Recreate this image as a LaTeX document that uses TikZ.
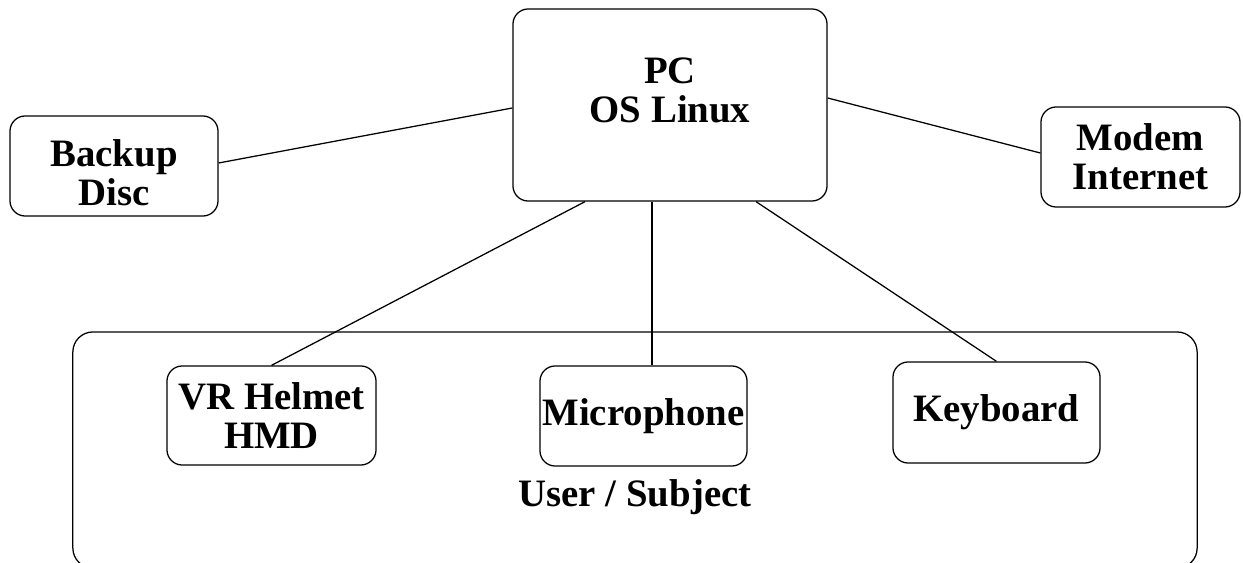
\documentclass[tikz,border=0pt]{standalone}
\usepackage{fontspec}
\setmainfont{Liberation Serif}
\usepackage{tikz}
\usetikzlibrary{positioning}

\begin{document}
\begin{tikzpicture}[x=0.025cm,y=-0.025cm,
  box/.style={draw,line width=0.9pt,rounded corners=0.38cm,inner sep=0pt},
  lbl/.style={align=center,font=\fontsize{27.6}{27.6}\selectfont\bfseries}]
\useasboundingbox (0,0) rectangle (1243,563);
% User area
\node[box,rounded corners=0.5cm,minimum width=28.1cm,minimum height=5.9cm] (user) at (635,450) {};
\node[lbl] (usertxt) at (635,497) {User / Subject};
% PC
\node[box,minimum width=7.85cm,minimum height=4.8cm] (pc) at (670,105) {};
\node[lbl] (pctxt) at (670,90) {PC\\OS Linux};
% Peripherals
\node[box,minimum width=5.2cm,minimum height=2.5cm] (backup) at (114,166) {};
\node[lbl] (backuptxt) at (114,173) {Backup\\Disc};
\node[box,lbl,minimum width=4.975cm,minimum height=2.5cm] (modem) at (1140.5,157) {Modem\\Internet};
\node[box,lbl,minimum width=5.225cm,minimum height=2.475cm] (vr) at (271.5,415.5) {VR Helmet\\HMD};
\node[box,lbl,minimum width=5.175cm,minimum height=2.5cm] (mic) at (643.5,416) {Microphone};
\node[box,lbl,minimum width=5.175cm,minimum height=2.525cm] (kbd) at (996.5,412.5) {Keyboard};
% Links
\draw[line width=0.9pt] ([yshift=0.075cm]backup.east) -- ([yshift=-0.075cm]pc.west);
\draw[line width=0.9pt] ([yshift=0.175cm]pc.east) -- ([yshift=0.1cm]modem.west);
\draw[line width=0.9pt] ([xshift=-2.125cm]pc.south) -- (vr.north);
\draw[line width=0.9pt] ([xshift=-0.45cm]pc.south) -- ([xshift=-0.45cm]pc.south |- mic.north);
\draw[line width=0.9pt] ([xshift=2.15cm]pc.south) -- (kbd.north);
\end{tikzpicture}
\end{document}
